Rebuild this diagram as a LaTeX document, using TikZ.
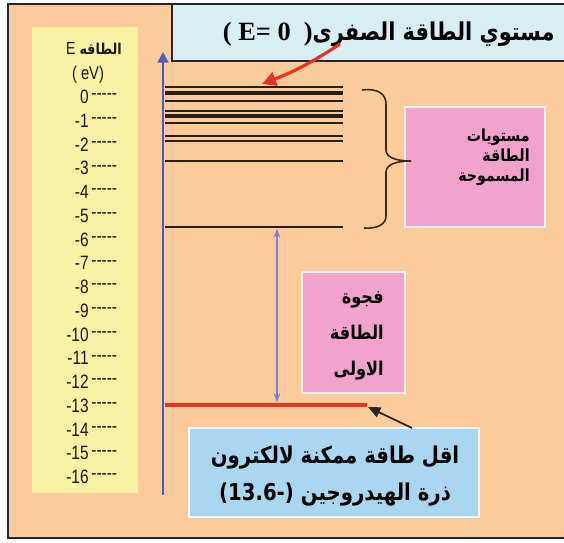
\documentclass[tikz,border=0pt]{standalone}
\usepackage{fontspec}
\setmainfont{Liberation Sans}
\newfontfamily\arabicfont[Script=Arabic, FakeStretch=0.85]{DejaVu Sans}
\newfontfamily\narrowfont[FakeStretch=0.8]{Liberation Sans}
\newfontfamily\timesfont{Liberation Serif}
\TeXXeTstate=1
\usepackage{tikz}
\usetikzlibrary{positioning,arrows.meta}
\definecolor{peach}{HTML}{FBCB9C}
\definecolor{paleyellow}{HTML}{F7F2A4}
\definecolor{skyline}{HTML}{D8EEF3}
\definecolor{lowblue}{HTML}{A9D7F0}
\definecolor{rosebox}{HTML}{F2A3CB}
\definecolor{axisblue}{HTML}{4F5BC0}
\definecolor{gapblue}{HTML}{7D80D6}
\definecolor{groundred}{HTML}{E8331F}
\definecolor{levelink}{HTML}{2A1D16}
\definecolor{braceink}{HTML}{3B2A1B}
\tikzset{
  panel/.style={anchor=north west, inner sep=0pt, outer sep=0pt},
  frame/.style={panel, draw=black!85, line width=1pt, fill=peach},
  scalebox/.style={panel, fill=paleyellow},
  headbox/.style={panel, draw=black!85, line width=1pt, fill=skyline},
  pinkbox/.style={panel, draw=white!85!rosebox, line width=0.8pt, fill=rosebox},
  lowbox/.style={panel, draw=white!80!lowblue, line width=1pt, fill=lowblue},
  artext/.style={inner sep=0pt, font=\arabicfont\bfseries, text=black},
  tick/.style={inner sep=0pt, font=\fontsize{11}{12}\narrowfont, text=black!90},
  level/.style={draw=levelink},
  axis/.style={draw=axisblue, line width=1.7pt, -{Triangle[length=6pt, width=6pt]}},
  gap/.style={draw=gapblue, line width=0.8pt, {Stealth[length=5pt]}-{Stealth[length=5pt]}},
  ground/.style={draw=groundred, line width=2.8pt},
  pointer/.style={draw=black!85, line width=1pt, -{Triangle[length=7pt, width=6pt]}},
  hint/.style={draw=groundred, line width=1.8pt, -{Triangle[length=8pt, width=8pt]}},
  brace/.style={draw=braceink, line width=0.9pt},
}
\begin{document}
\begin{tikzpicture}[x=0.02cm, y=-0.02cm]
  \useasboundingbox (0,0) rectangle (564,542);

  % panels
  \node[frame, minimum width=11.2cm, minimum height=10.68cm] (frame) at (8,4) {};
  \node[scalebox, minimum width=2.12cm, minimum height=9.32cm] (scale) at (32,27) {};
  \node[headbox, minimum width=7.9cm, minimum height=1.14cm] (head) at (172,4) {};
  \node[pinkbox, minimum width=2.8cm, minimum height=2.4cm] (allowed) at (405,107) {};
  \node[pinkbox, minimum width=2.06cm, minimum height=2.42cm] (gapbox) at (302,272) {};
  \node[lowbox, minimum width=5.8cm, minimum height=1.78cm] (low) at (189,428) {};

  % texts
  \node[artext, anchor=east, font=\fontsize{14}{16}\selectfont] (headtxt) at (555,34)
    {{\timesfont\bfseries\fontsize{15}{16}\selectfont ( E= 0\ \ )}{\arabicfont\bfseries\beginR مستوي الطاقة الصفرى\endR}};
  \node[artext, anchor=east, align=right, font=\arabicfont\bfseries\fontsize{9.5}{11.5}\selectfont] (allowedtxt) at (530,157)
    {\beginR مستويات\endR\\\beginR الطاقة\endR\\\beginR المسموحة\endR};
  \node[artext, anchor=east, align=right, font=\arabicfont\bfseries\fontsize{10.8}{20.5}\selectfont] (gaptxt) at (384,336)
    {\beginR فجوة\endR\\\beginR الطاقة\endR\\\beginR الاولى\endR};
  \node[artext, align=center, font=\arabicfont\bfseries\fontsize{13.2}{21}\selectfont] (lowtxt) at (335,476)
    {\beginR اقل طاقة ممكنة لالكترون\endR\\\beginR ذرة الهيدروجين \beginL(-13.6)\endL\endR};

  \node[tick, font=\fontsize{10}{11}\narrowfont] (etxt) at (94,48)
    {E\ {\arabicfont\bfseries\fontsize{8.5}{9}\selectfont\beginR الطاقه\endR}};
  \node[tick, font=\fontsize{10.5}{11}\narrowfont] (evtxt) at (88,75) {( eV)};
  \foreach \i in {0,...,16} {
    \node[tick, anchor=east] (v\i) at (89,{97+23.75*\i}) {\ifnum\i=0 0\else -\i\fi};
    \node[tick, anchor=west] (d\i) at (91,{97+23.75*\i}) {-----};
  }

  % energy levels
  \foreach \y/\w in {87/1.1, 93/1.8, 101/1.1, 111/1.5, 116/2.0, 123/1.5, 136/1.1, 141/1.1, 161/1.2, 227/1.2}
    \draw[level, line width=\w pt] (165,\y) -- (343,\y);
  \draw[ground] (165,405) -- (367,405);

  \coordinate (axbot) at (163,495);
  \coordinate (axtop) at (163,52);
  \draw[axis] (axbot) -- (axtop);

  \coordinate (gaptop) at (277,229);
  \coordinate (gapbot) at (277,402);
  \draw[gap] (gaptop) -- (gapbot);

  \draw[brace] (362,90) .. controls (378,88) and (386,94) .. (386,104) -- (386,150)
    .. controls (386,157) and (395,161) .. (411,161)
    .. controls (395,161) and (386,165) .. (386,172) -- (386,216)
    .. controls (386,224) and (378,229) .. (364,228);

  % arrows
  \coordinate (hintfrom) at (340,44);
  \coordinate (zerolvl) at (262,84);
  \draw[hint] (hintfrom) to[bend left=6] (zerolvl);
  \coordinate (ptrfrom) at (412,428);
  \coordinate (lowend) at (368,407);
  \draw[pointer] (ptrfrom) -- (lowend);
\end{tikzpicture}
\end{document}
